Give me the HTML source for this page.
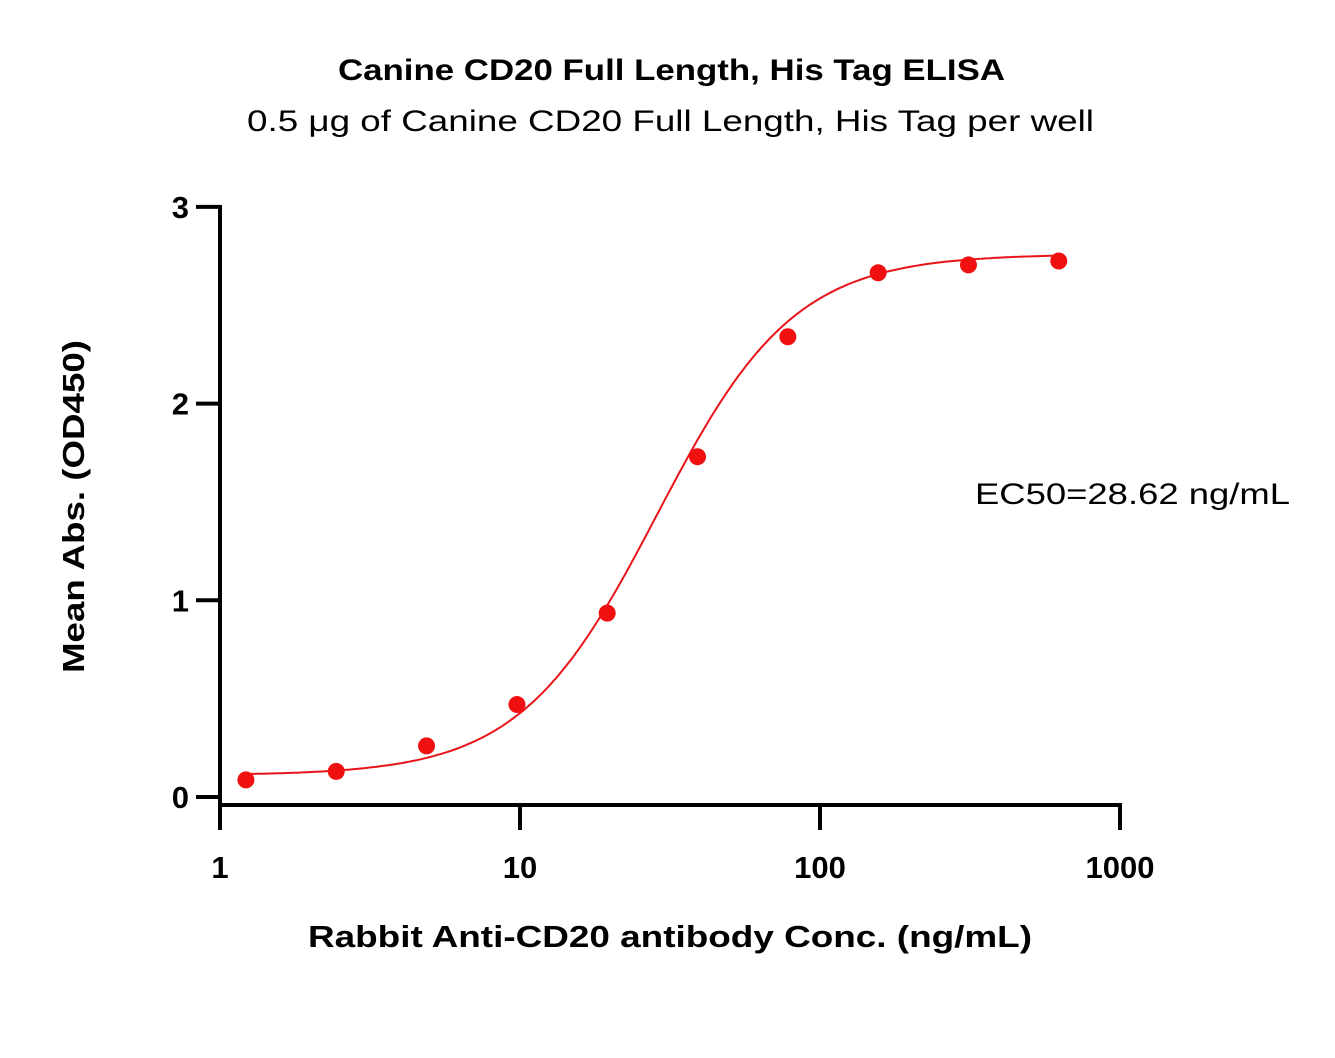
<!DOCTYPE html>
<html><head><meta charset="utf-8"><style>
body{margin:0;background:#fff;}
svg text{font-family:"Liberation Sans",sans-serif;}
</style></head><body>
<svg width="1335" height="1053" xmlns="http://www.w3.org/2000/svg" id="chart">
<text x="338" y="80" font-size="30" font-weight="bold" textLength="667" lengthAdjust="spacingAndGlyphs">Canine CD20 Full Length, His Tag ELISA</text>
<text x="247" y="131" font-size="30" textLength="847" lengthAdjust="spacingAndGlyphs">0.5 μg of Canine CD20 Full Length, His Tag per well</text>
<text x="975" y="504" font-size="30" textLength="315" lengthAdjust="spacingAndGlyphs">EC50=28.62 ng/mL</text>
<text x="308" y="947" font-size="31" font-weight="bold" textLength="724" lengthAdjust="spacingAndGlyphs">Rabbit Anti-CD20 antibody Conc. (ng/mL)</text>
<text transform="translate(84,673) rotate(-90)" font-size="31" font-weight="bold" textLength="333" lengthAdjust="spacingAndGlyphs">Mean Abs. (OD450)</text>
<g id="axes"></g>
<g id="marks"></g>
</svg>
<script>
const xConc=[1.22,2.44,4.88,9.77,19.53,39.06,78.13,156.25,312.5,625];
const yAbs=[0.087,0.13,0.26,0.47,0.935,1.73,2.34,2.665,2.705,2.725];
const yTicks=[0,1,2,3];
const xTicks=[1,10,100,1000];
const xTickLabels=["1","10","100","1000"];
const fitParams=[0.11,2.76,28.62,1.9]; // bottom, top, EC50, hill
const NS="http://www.w3.org/2000/svg";
const X=v=>220+300*Math.log10(v);
const Y=v=>797-196.7*v;
const ax=document.getElementById('axes'),mk=document.getElementById('marks');
function el(t,a,p){const e=document.createElementNS(NS,t);for(const k in a)e.setAttribute(k,a[k]);p.appendChild(e);return e;}
let l=el('line',{x1:220,y1:205,x2:220,y2:807,stroke:'#000','stroke-width':4},ax);


l=el('line',{x1:218,y1:805,x2:1122,y2:805,stroke:'#000','stroke-width':4},ax);


yTicks.forEach(v=>{
 const t=el('line',{x1:196,y1:Y(v),x2:220,y2:Y(v),stroke:'#000','stroke-width':4},ax);
 
 
 const tx=el('text',{x:189,y:Y(v)+11,'text-anchor':'end','font-size':31,'font-weight':'bold'},ax);
 tx.textContent=String(v);
 
 
});
xTicks.forEach((v,i)=>{
 const t=el('line',{x1:X(v),y1:805,x2:X(v),y2:830,stroke:'#000','stroke-width':4},ax);
 
 
 const tx=el('text',{x:X(v),y:878,'text-anchor':'middle','font-size':31,'font-weight':'bold'},ax);
 tx.textContent=xTickLabels[i];
 
 
});
const [b,tp,ec,h]=fitParams;
let d='';
const lo=Math.log10(xConc[0]),hi=Math.log10(xConc[xConc.length-1]);
for(let i=0;i<=200;i++){const lx=lo+(hi-lo)*i/200;const c=Math.pow(10,lx);const v=b+(tp-b)/(1+Math.pow(ec/c,h));d+=(i?'L':'M')+X(c).toFixed(1)+','+Y(v).toFixed(1);}
const p=el('path',{d:d,fill:'none',stroke:'#e8141a','stroke-width':2},mk);


xConc.forEach((c,i)=>{
 const pt=el('circle',{cx:X(c),cy:Y(yAbs[i]),r:8.5,fill:'#f01010'},mk);
 
 
});
</script>
</body></html>
